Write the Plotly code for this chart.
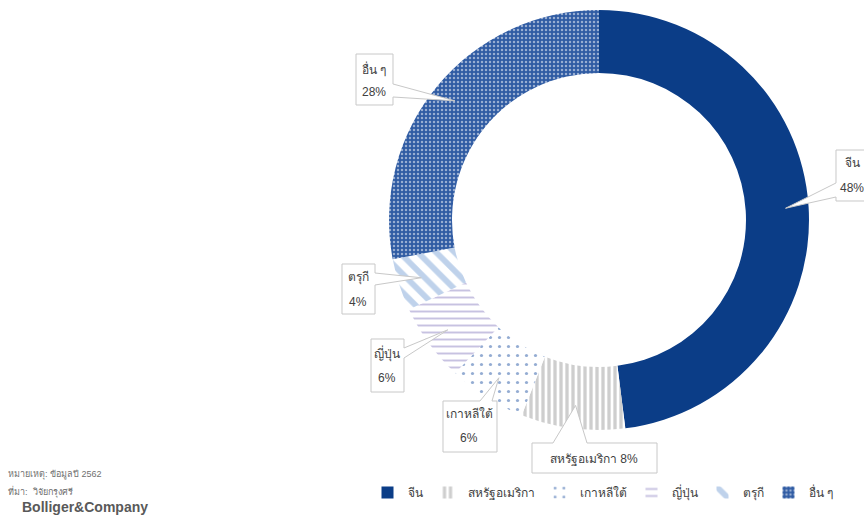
import math
import plotly.graph_objects as go

W, H = 864, 518

labels = ["จีน", "สหรัฐอเมริกา", "เกาหลีใต้", "ญี่ปุ่น", "ตรุกี", "อื่น ๆ"]
values = [48, 8, 6, 6, 4, 28]

colors = ["#0b3d87", "#ffffff", "#ffffff", "#ffffff", "#ffffff", "#2f5ba3"]
pat_shape = ["", "|", ".", "-", "\\", "."]
pat_fg = ["#0b3d87", "#9e9e9e", "#2a5aa5", "#8f86c4", "#7fa6d8", "#ffffff"]
pat_size = [8, 6, 9, 7, 13, 4]
pat_sol = [0.3, 0.55, 0.1, 0.28, 0.45, 0.3]

# pie geometry (pixels)
CX, CY, R = 599, 220, 210
HOLE = 0.70

def px2paper(x, y):
    return x / W, 1 - y / H

fig = go.Figure(go.Pie(
    labels=labels, values=values, sort=False, direction="clockwise", rotation=0,
    hole=HOLE, textinfo="none", hoverinfo="label+percent",
    marker=dict(colors=colors, line=dict(width=0),
                pattern=dict(shape=pat_shape, fgcolor=pat_fg, size=pat_size,
                             solidity=pat_sol, fillmode="overlay")),
    domain=dict(x=[(CX - R) / W, (CX + R) / W], y=[1 - (CY + R) / H, 1 - (CY - R) / H]),
))

# label boxes: (left, top, right, bottom), side of wedge, base start, base end, text lines
boxes = [
    dict(box=(836, 150, 880, 201), side="left", b=(183, 197), lines=[(852, 163, "จีน"), (852, 188, "48%")]),
    dict(box=(532, 443, 657, 473), side="top", b=(553, 587), lines=[(594, 459, "สหรัฐอเมริกา 8%")]),
    dict(box=(443, 401, 497, 452), side="top", b=(480, 492), lines=[(469, 414, "เกาหลีใต้"), (469, 438, "6%")]),
    dict(box=(371, 339, 404, 392), side="right", b=(348, 358), lines=[(387, 353, "ญี่ปุ่น"), (387, 378, "6%")]),
    dict(box=(342, 264, 375, 314), side="right", b=(273, 285), lines=[(358, 277, "ตรุกี"), (358, 302, "4%")]),
    dict(box=(356, 54, 393, 105), side="right", b=(84, 97), lines=[(374, 69, "อื่น ๆ"), (374, 92, "28%")]),
]

total = sum(values)
cum = 0
shapes = []
annotations = []
for i, v in enumerate(values):
    mid = (cum + v / 2) / total * 2 * math.pi
    cum += v
    r = R * 0.89
    tx = CX + r * math.sin(mid)
    ty = CY - r * math.cos(mid)
    bd = boxes[i]
    l, t, rr, bt = bd["box"]
    b0, b1 = bd["b"]
    if bd["side"] == "left":
        pts = [(l, t), (rr, t), (rr, bt), (l, bt), (l, b1), (tx, ty), (l, b0)]
    elif bd["side"] == "right":
        pts = [(l, t), (rr, t), (rr, b0), (tx, ty), (rr, b1), (rr, bt), (l, bt)]
    else:  # top
        pts = [(l, t), (b0, t), (tx, ty), (b1, t), (rr, t), (rr, bt), (l, bt)]
    path = ""
    for k, (x, y) in enumerate(pts):
        X, Y = px2paper(x, y)
        path += ("M" if k == 0 else "L") + f"{X:.5f},{Y:.5f} "
    path += "Z"
    shapes.append(dict(type="path", path=path, xref="paper", yref="paper",
                       fillcolor="white", line=dict(color="#c8c8c8", width=1)))
    for (x, y, txt) in bd["lines"]:
        X, Y = px2paper(x, y)
        annotations.append(dict(x=X, y=Y, xref="paper", yref="paper", text=txt,
                                showarrow=False, xanchor="center", yanchor="middle",
                                font=dict(size=12, color="#404040")))

# footnote
for (x, y, txt, size, color) in [
    (6, 474, "หมายเหตุ: ข้อมูลปี 2562", 9, "#707070"),
    (6, 491, "ที่มา:  วิจัยกรุงศรี", 9, "#707070"),
    (20, 507, "<b>Bolliger&Company</b>", 14, "#595959"),
]:
    X, Y = px2paper(x, y)
    annotations.append(dict(x=X, y=Y, xref="paper", yref="paper", text=txt, showarrow=False,
                            xanchor="left", yanchor="middle", font=dict(size=size, color=color)))

fig.update_layout(
    width=W, height=H,
    margin=dict(l=0, r=0, t=0, b=0, autoexpand=False),
    paper_bgcolor="white", plot_bgcolor="white",
    font=dict(family="Liberation Sans, Noto Sans, sans-serif", color="#404040"),
    showlegend=True,
    legend=dict(orientation="h", x=603 / W, y=1 - 478 / H, xanchor="center", yanchor="top",
                font=dict(size=12, color="#404040"), itemwidth=30, tracegroupgap=0),
    shapes=shapes,
    annotations=annotations,
)

fig.write_html("out.html", config={"displayModeBar": False},
               post_script="document.body.style.margin='0';document.body.style.overflow='hidden';")
